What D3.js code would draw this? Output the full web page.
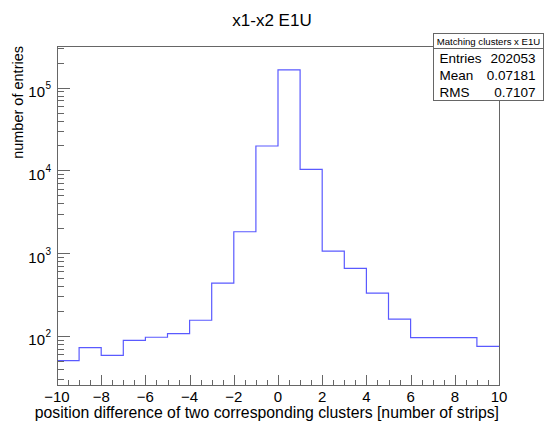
<!DOCTYPE html>
<html>
<head>
<meta charset="utf-8">
<script src="https://cdn.jsdelivr.net/npm/d3@7/dist/d3.min.js"></script>
<style>
  html, body { margin: 0; padding: 0; background: #fff; }
  svg { display: block; font-family: "Liberation Sans", Arial, sans-serif; }
</style>
</head>
<body>
<svg id="chart" width="544" height="427"></svg>
<script>
// Histogram bin edges (unit-wide bins from -10 to 10) and bin contents
const binEdges = d3.range(-10, 11, 1);
const binCounts = [50, 72, 58, 88, 96, 106, 154, 434, 1810, 19700,
                   164000, 10300, 1057, 652, 328, 159, 95, 95, 95, 74.5];
const xTickValues = [-10, -8, -6, -4, -2, 0, 2, 4, 6, 8, 10];
const yDecades = [2, 3, 4, 5];
const statsTitle = "Matching clusters x E1U";
const statsLabels = ["Entries", "Mean", "RMS"];
const statsValues = ["202053", "0.07181", "0.7107"];

const svg = d3.select("#chart");
const frame = { left: 57, right: 499, top: 46, bottom: 385 };

const x = d3.scaleLinear().domain([-10, 10]).range([frame.left, frame.right]);
const y = d3.scaleLog().domain([25.4, 3.19e5]).range([frame.bottom, frame.top]);

const axisColor = "#666";

// Title
svg.append("text")
  .attr("x", 272).attr("y", 26)
  .attr("text-anchor", "middle")
  .attr("font-size", 17)
  .attr("fill", "#000")
  .text("x1-x2 E1U");

// Histogram step outline
const stepPts = [];
binCounts.forEach((c, i) => {
  stepPts.push([x(binEdges[i]), y(c)]);
  stepPts.push([x(binEdges[i + 1]), y(c)]);
});
svg.append("path")
  .attr("d", d3.line()(stepPts))
  .attr("fill", "none")
  .attr("stroke", "#5a5aff")
  .attr("stroke-width", 1.2);

// Frame
svg.append("rect")
  .attr("x", frame.left + 0.5).attr("y", frame.top + 0.5)
  .attr("width", frame.right - frame.left).attr("height", frame.bottom - frame.top)
  .attr("fill", "none").attr("stroke", axisColor).attr("stroke-width", 1);

// X axis ticks: major every 2, minor every 0.5
const xMinor = d3.range(-10, 10.01, 0.5);
svg.append("g").selectAll("line").data(xMinor).join("line")
  .attr("x1", d => Math.round(x(d)) + 0.5).attr("x2", d => Math.round(x(d)) + 0.5)
  .attr("y1", frame.bottom)
  .attr("y2", d => frame.bottom - (xTickValues.includes(d) ? 10 : 5))
  .attr("stroke", axisColor).attr("stroke-width", 1);

svg.append("g").selectAll("text").data(xTickValues).join("text")
  .attr("x", d => x(d)).attr("y", 402)
  .attr("text-anchor", "middle")
  .attr("font-size", 15)
  .text(d => d < 0 ? "\u2212" + Math.abs(d) : String(d));

// Y axis ticks: decades major, 2..9 minor
const yMinor = [];
for (let k = 1; k <= 5; k++) {
  for (let m = 1; m <= 9; m++) {
    const v = m * Math.pow(10, k);
    if (v >= y.domain()[0] && v <= y.domain()[1]) yMinor.push({ v, major: m === 1 });
  }
}
svg.append("g").selectAll("line").data(yMinor).join("line")
  .attr("x1", frame.left)
  .attr("x2", d => frame.left + (d.major ? 13 : 7))
  .attr("y1", d => Math.round(y(d.v)) + 0.5).attr("y2", d => Math.round(y(d.v)) + 0.5)
  .attr("stroke", axisColor).attr("stroke-width", 1);

const yLab = svg.append("g").selectAll("g").data(yDecades).join("g")
  .attr("transform", d => `translate(0,${y(Math.pow(10, d))})`);
yLab.append("text")
  .attr("x", 45).attr("y", 9.5)
  .attr("text-anchor", "end")
  .attr("font-size", 15)
  .text("10");
yLab.append("text")
  .attr("x", 45.5).attr("y", 1.5)
  .attr("font-size", 10)
  .text(d => d);

// Axis titles
svg.append("text")
  .attr("transform", "translate(23,46) rotate(-90)")
  .attr("text-anchor", "end")
  .attr("font-size", 14.5)
  .text("number of entries");

svg.append("text")
  .attr("x", 499).attr("y", 418)
  .attr("text-anchor", "end")
  .attr("font-size", 15.8)
  .text("position difference of two corresponding clusters [number of strips]");

// Statistics box
const box = { x: 433.5, y: 33.5, w: 110, h: 67, head: 15 };
svg.append("rect")
  .attr("x", box.x).attr("y", box.y).attr("width", box.w).attr("height", box.h)
  .attr("fill", "#fff").attr("stroke", axisColor).attr("stroke-width", 1);
svg.append("line")
  .attr("x1", box.x).attr("x2", box.x + box.w)
  .attr("y1", box.y + box.head).attr("y2", box.y + box.head)
  .attr("stroke", axisColor).attr("stroke-width", 1);
svg.append("text")
  .attr("x", box.x + box.w / 2).attr("y", box.y + 11.5)
  .attr("text-anchor", "middle")
  .attr("font-size", 9.6)
  .text(statsTitle);
const rowY = [63, 80, 96.5];
svg.append("g").selectAll("text").data(statsLabels).join("text")
  .attr("x", box.x + 6).attr("y", (d, i) => rowY[i])
  .attr("font-size", 13.5)
  .text(d => d);
svg.append("g").selectAll("text").data(statsValues).join("text")
  .attr("x", box.x + box.w - 8).attr("y", (d, i) => rowY[i])
  .attr("text-anchor", "end")
  .attr("font-size", 13.5)
  .text(d => d);
</script>
</body>
</html>
